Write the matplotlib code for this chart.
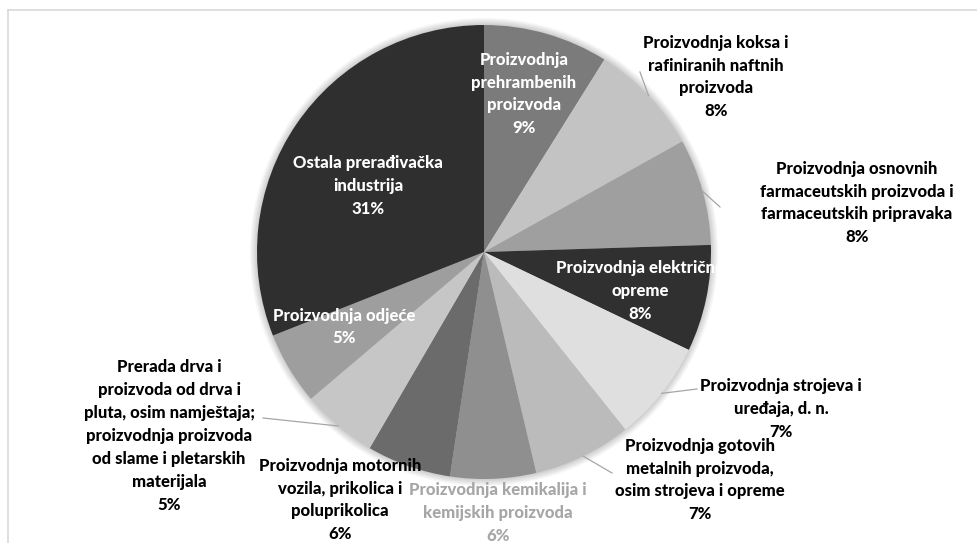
import numpy as np
import matplotlib
matplotlib.use("Agg")
import matplotlib.pyplot as plt
from matplotlib.patches import Circle

categories = [
    "Proizvodnja\nprehrambenih\nproizvoda",
    "Proizvodnja koksa i\nrafiniranih naftnih\nproizvoda",
    "Proizvodnja osnovnih\nfarmaceutskih proizvoda i\nfarmaceutskih pripravaka",
    "Proizvodnja električne\nopreme",
    "Proizvodnja strojeva i\nuređaja, d. n.",
    "Proizvodnja gotovih\nmetalnih proizvoda,\nosim strojeva i opreme",
    "Proizvodnja kemikalija i\nkemijskih proizvoda",
    "Proizvodnja motornih\nvozila, prikolica i\npoluprikolica",
    "Prerada drva i\nproizvoda od drva i\npluta, osim namještaja;\nproizvodnja proizvoda\nod slame i pletarskih\nmaterijala",
    "Proizvodnja odjeće",
    "Ostala prerađivačka\nindustrija",
]
values = [8.9, 8.0, 7.6, 7.6, 7.2, 7.0, 6.1, 6.0, 5.4, 5.2, 31.0]
colors = ["#7b7b7b", "#c3c3c3", "#9f9f9f", "#303030", "#dfdfdf", "#bbbbbb",
          "#8f8f8f", "#6b6b6b", "#c6c6c6", "#9e9e9e", "#2f2f2f"]

# label layout (pixel coords of text centre, text colour, leader end point or None)
H = 543
label_pos = [(524, 94), (716, 77), (857, 203), (640, 291), (781, 409), (700, 480),
             (498, 513), (340, 500), (169, 436), (344, 327), (368, 186)]
label_col = ["white", "black", "black", "white", "black", "black",
             "#a6a6a6", "black", "black", "white", "white"]
leader_end = [None, (640, 72), (720, 207), None, (697, 389), (612, 473),
              None, None, (263, 418), None, None]

plt.rcParams['font.family'] = ['Lato', 'DejaVu Sans']

fig = plt.figure(figsize=(9.77, 5.43), dpi=100)
ax = fig.add_axes([0, 0, 1, 1])

cx, cy, R = 484, H - 252, 227

# soft shadow
for k in range(8, 0, -1):
    ax.add_patch(Circle((cx, cy), R + k * 0.9, color="#000000", alpha=0.025, lw=0, zorder=0))

wedges, _ = ax.pie(values, colors=colors, startangle=90, counterclock=False,
                   center=(cx, cy), radius=R, wedgeprops=dict(linewidth=0),
                   frame=True)
for w in wedges:
    w.set_zorder(1)

total = sum(values)
for i, w in enumerate(wedges):
    pct = f"{round(values[i] / total * 100):.0f}%"
    x, y = label_pos[i]
    ax.text(x, H - y, categories[i] + "\n" + pct, ha="center", va="center",
            fontsize=12.0, fontweight="black", color=label_col[i],
            linespacing=1.53, zorder=3)
    if leader_end[i] is not None:
        ang = np.deg2rad((w.theta1 + w.theta2) / 2)
        sx, sy = cx + R * np.cos(ang), cy + R * np.sin(ang)
        ex, ey = leader_end[i]
        ax.plot([sx, ex], [sy, H - ey], color="#a6a6a6", lw=0.9, zorder=2)

# chart area border (top and left)
ax.plot([8, 977], [H - 10, H - 10], color="#d9d9d9", lw=1.2, zorder=0)
ax.plot([8, 8], [H - 10, 0], color="#d9d9d9", lw=1.2, zorder=0)

ax.set_xlim(0, 977)
ax.set_ylim(0, H)
ax.set_aspect("equal")
ax.axis("off")
fig.savefig("out.png", dpi=100, facecolor="white")
